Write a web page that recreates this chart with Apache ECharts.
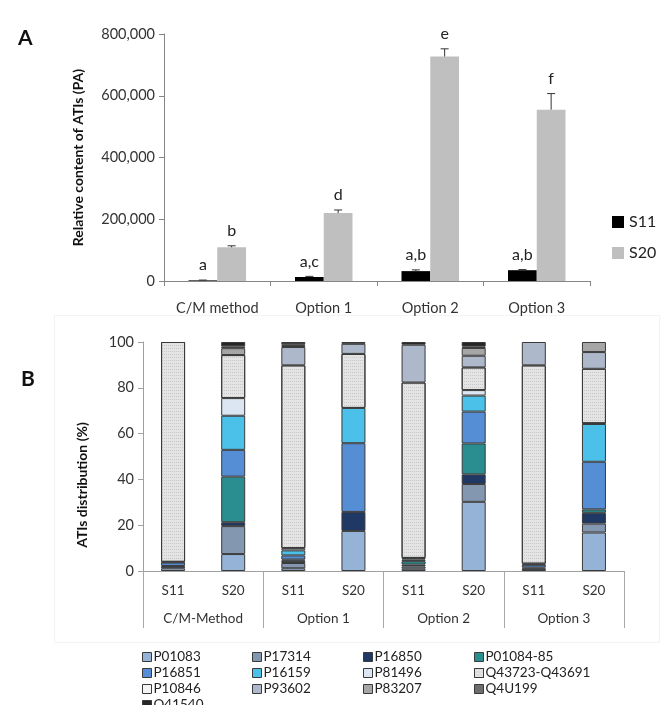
<!DOCTYPE html>
<html><head><meta charset="utf-8">
<script src="https://cdn.jsdelivr.net/npm/echarts@6/dist/echarts.min.js"></script>
<style>html,body{margin:0;padding:0;background:#fff}#c{width:669px;height:705px}</style>
</head><body><div id="c"></div>
<script>
// ---- Panel A data ----
const methods = ['C/M method', 'Option 1', 'Option 2', 'Option 3'];
const s11Means = [2000, 13000, 32000, 35000];
const s11Errors = [1000, 2000, 4000, 2000];
const s20Means = [109000, 220000, 727000, 555000];
const s20Errors = [5000, 10000, 25000, 52000];
const s11Letters = ['a', 'a,c', 'a,b', 'a,b'];
const s20Letters = ['b', 'd', 'e', 'f'];

// ---- Panel B data ----
const groupLabels = ['C/M-Method', 'Option 1', 'Option 2', 'Option 3'];
const sampleLabels = ['S11', 'S20', 'S11', 'S20', 'S11', 'S20', 'S11', 'S20'];
const p01083 = [1.2, 7.4, 1.2, 17.5, 1.0, 30.2, 0, 16.8];
const p17314 = [0, 12.2, 2.3, 0, 1.0, 7.8, 0, 3.9];
const p16850 = [1.0, 1.7, 1.0, 8.3, 0.8, 4.2, 1.0, 4.7];
const p0108485 = [0, 19.9, 0.5, 0, 1.5, 13.5, 0.5, 1.5];
const p16851 = [1.5, 11.7, 1.8, 30.0, 0.7, 13.9, 1.2, 20.8];
const p16159 = [0.3, 14.9, 2.2, 15.4, 0.7, 7.0, 0.5, 16.5];
const p81496 = [0, 7.7, 1.0, 0, 0, 2.4, 0, 0.3];
const q43723 = [96.0, 18.8, 79.8, 23.6, 76.6, 9.9, 86.6, 23.8];
const p10846 = [0, 0, 0, 0, 0, 0, 0, 0];
const p93602 = [0, 0, 8.0, 4.4, 16.5, 5.1, 10.2, 7.3];
const p83207 = [0, 3.0, 0.5, 0, 0, 3.4, 0, 4.4];
const q4u199 = [0, 0.8, 0.7, 0, 0, 0.6, 0, 0];
const q41540 = [0, 1.9, 1.0, 0.8, 1.2, 2.0, 0, 0];

const proteinNames = ['P01083', 'P17314', 'P16850', 'P01084-85', 'P16851', 'P16159', 'P81496',
  'Q43723-Q43691', 'P10846', 'P93602', 'P83207', 'Q4U199', 'Q41540'];
const proteinShares = [p01083, p17314, p16850, p0108485, p16851, p16159, p81496,
  q43723, p10846, p93602, p83207, q4u199, q41540];
const proteinColors = ['#95b3d7', '#8497b0', '#1f3864', '#2a8e90', '#558ed5', '#4bc0e8', '#dce6f2',
  '#e4e4e4', '#f4f4f4', '#adb9ca', '#a6a6a6', '#6d6d6d', '#262626'];
const legendColumns = [
  ['P01083', 'P16851', 'P10846'],
  ['P17314', 'P16159', 'P93602'],
  ['P16850', 'P81496', 'P83207'],
  ['P01084-85', 'Q43723-Q43691', 'Q4U199'],
  ['Q41540']
];
const legendColX = [137, 247, 358, 469, 137];
const legendColY = [644, 644, 644, 644, 692];

const FONT = 'Lato';
const chart = echarts.init(document.getElementById('c'), null, {renderer: 'canvas'});

const BARW = 0.27;
function errSeries(name, means, errs, letters, sign) {
  return {
    type: 'custom', name: name + '_err', xAxisIndex: 0, yAxisIndex: 0, z: 5,
    silent: true, legendHoverLink: false,
    data: means.map((m, i) => [i, m, errs[i]]),
    renderItem: function (params, api) {
      const x = api.value(0), v = api.value(1), e = api.value(2);
      const band = api.size([1, 0])[0];
      const off = band * BARW / 2 * sign;
      const p0 = api.coord([x, v]);
      const p1 = api.coord([x, v + e]);
      const cx = p0[0] + off;
      return {
        type: 'group',
        children: [
          {type: 'line', shape: {x1: cx, y1: p0[1], x2: cx, y2: p1[1]}, style: {stroke: '#333', lineWidth: 1}},
          {type: 'line', shape: {x1: cx - 4, y1: p1[1], x2: cx + 4, y2: p1[1]}, style: {stroke: '#333', lineWidth: 1}},
          {type: 'text', x: cx, y: p1[1] - 7, style: {text: letters[params.dataIndex], fill: '#222',
            font: '16px ' + FONT, textAlign: 'center', textVerticalAlign: 'bottom'}}
        ]
      };
    }
  };
}

const series = [
  {type: 'bar', name: 'S11', xAxisIndex: 0, yAxisIndex: 0, data: s11Means, barWidth: (BARW * 100) + '%', barGap: '0%',
    itemStyle: {color: '#000000'}},
  {type: 'bar', name: 'S20', xAxisIndex: 0, yAxisIndex: 0, data: s20Means, barWidth: (BARW * 100) + '%', barGap: '0%',
    itemStyle: {color: '#bfbfbf'}},
  errSeries('S11', s11Means, s11Errors, s11Letters, -1),
  errSeries('S20', s20Means, s20Errors, s20Letters, 1)
];
proteinNames.forEach((n, k) => {
  const style = {color: proteinColors[k], borderColor: '#3a3a3a', borderWidth: 1};
  if (n === 'Q43723-Q43691') {
    style.decal = {symbol: 'rect', symbolSize: 1, dashArrayX: [1, 1], dashArrayY: [1, 2],
      rotation: 0, color: 'rgba(150,150,150,0.35)'};
  }
  series.push({
    type: 'bar', name: n, stack: 'ati', xAxisIndex: 1, yAxisIndex: 1, barWidth: 24,
    data: proteinShares[k].map(v => v === 0 ? null : v),
    itemStyle: style
  });
});

const legends = [{
  orient: 'vertical', left: 607, top: 209, itemWidth: 12, itemHeight: 12, itemGap: 15,
  data: ['S11', 'S20'], icon: 'rect',
  textStyle: {fontFamily: FONT, fontSize: 16, color: '#222', lineHeight: 16}
}];
legendColumns.forEach((col, i) => {
  legends.push({
    orient: 'vertical', left: legendColX[i], top: legendColY[i], itemWidth: 9, itemHeight: 9, itemGap: 0,
    data: col.map(n => ({name: n, icon: 'rect',
      itemStyle: {borderColor: '#3a3a3a', borderWidth: 1}})),
    itemStyle: {borderColor: '#3a3a3a', borderWidth: 1},
    textStyle: {fontFamily: FONT, fontSize: 13.5, color: '#222', lineHeight: 16, padding: [0, 0, 0, -3]}
  });
});

const option = {
  animation: false,
  backgroundColor: '#fff',
  textStyle: {fontFamily: FONT},
  legend: legends,
  grid: [
    {left: 164, right: 79, top: 34, bottom: 424, containLabel: false},
    {left: 143, right: 45, top: 342, bottom: 134, containLabel: false}
  ],
  xAxis: [
    {type: 'category', gridIndex: 0, data: methods, boundaryGap: true,
      axisLine: {lineStyle: {color: '#868686'}},
      axisTick: {show: true, alignWithLabel: false, length: 5, lineStyle: {color: '#868686'}},
      axisLabel: {color: '#333', fontSize: 14.5, fontFamily: FONT, margin: 20, interval: 0}},
    {type: 'category', gridIndex: 1, data: sampleLabels.map((s, i) => s + '_' + i), boundaryGap: true,
      axisLine: {lineStyle: {color: '#a0a0a0'}},
      axisTick: {show: false},
      axisLabel: {color: '#333', fontSize: 13.5, fontFamily: FONT, margin: 13, interval: 0,
        formatter: (v, i) => sampleLabels[i]}},
    {type: 'category', gridIndex: 1, data: groupLabels, boundaryGap: true, position: 'bottom',
      axisLine: {show: false},
      axisTick: {show: true, length: 57, lineStyle: {color: '#a8a8a8'}},
      axisLabel: {color: '#333', fontSize: 13.5, fontFamily: FONT, margin: 41, interval: 0}}
  ],
  yAxis: [
    {type: 'value', gridIndex: 0, min: 0, max: 800000, interval: 200000,
      axisLine: {show: true, lineStyle: {color: '#868686'}},
      axisTick: {show: true, length: 5, lineStyle: {color: '#868686'}},
      splitLine: {show: false},
      axisLabel: {color: '#333', fontSize: 14.5, fontFamily: FONT, margin: 9,
        formatter: v => v.toLocaleString('en-US')},
      name: 'Relative content of ATIs (PA)', nameLocation: 'middle', nameGap: 79,
      nameTextStyle: {fontWeight: 'bold', fontSize: 14, color: '#111', fontFamily: FONT}},
    {type: 'value', gridIndex: 1, min: 0, max: 100, interval: 20,
      axisLine: {show: true, lineStyle: {color: '#a0a0a0'}},
      axisTick: {show: true, length: 5, lineStyle: {color: '#a0a0a0'}},
      splitLine: {show: false},
      axisLabel: {color: '#333', fontSize: 14.5, fontFamily: FONT, margin: 9}}
  ],
  graphic: [
    {type: 'rect', left: 52, top: 313, shape: {width: 605, height: 327},
      style: {fill: 'none', stroke: '#f3f3f3', lineWidth: 1}, silent: true, z: -1},
    {type: 'text', left: 18, top: 28, style: {text: 'A', font: 'bold 21px ' + FONT, fill: '#111'}},
    {type: 'text', left: 21, top: 369, style: {text: 'B', font: 'bold 21px ' + FONT, fill: '#111'}},
    {type: 'text', x: 82, y: 485, rotation: Math.PI / 2,
      style: {text: 'ATIs distribution (%)', font: 'bold 14px ' + FONT, fill: '#111',
        textAlign: 'center', textVerticalAlign: 'middle'}}
  ],
  series: series
};
chart.setOption(option);
</script></body></html>
